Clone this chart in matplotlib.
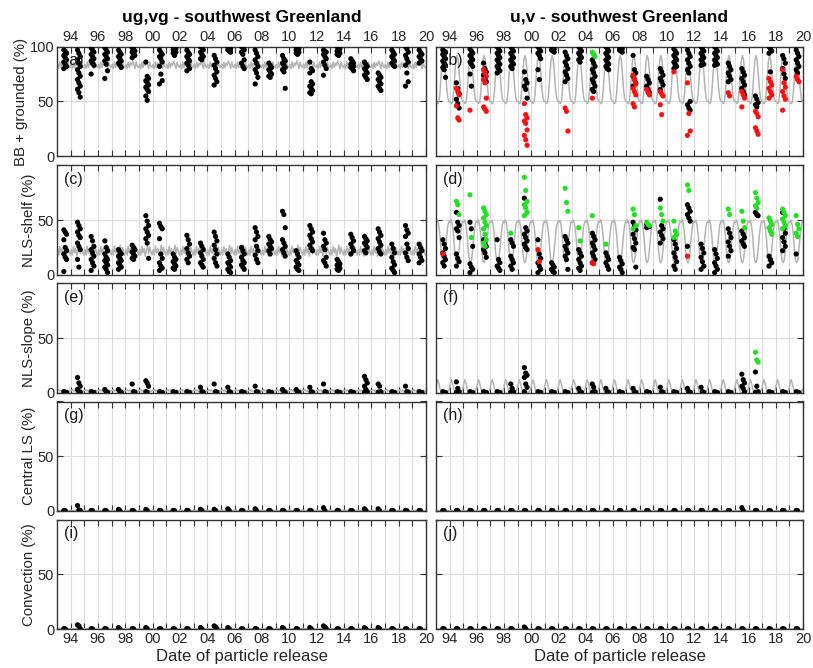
import numpy as np
import matplotlib
matplotlib.use("Agg")
import matplotlib.pyplot as plt

plt.rcParams['font.family'] = ['Liberation Sans', 'DejaVu Sans']

# ---------------- data ----------------
years = list(range(1993, 2020))          # release seasons
release_frac = 0.6                        # release time within the year

# monthly climatology of the grey curves (Jan..Dec)
a_clim = [84, 80, 86, 81, 85, 83, 87, 84, 80, 86, 82, 81]
b_clim = [50, 48, 49, 58, 74, 87, 92, 88, 76, 62, 53, 50]
c_clim = [23, 18, 26, 20, 24, 17, 22, 27, 19, 25, 21, 18]
d_clim = [48, 50, 45, 36, 22, 13, 11, 14, 24, 36, 45, 49]
e_clim = [2, 3, 1.5, 2.5, 1, 2, 3, 1.5, 2, 2.5, 1, 2]
f_clim = [8, 12, 9, 4, 1, 0.5, 0.5, 0.5, 0.5, 0.5, 1, 3]
g_clim = [0.4, 0.5, 0.3, 0.4, 0.3, 0.2, 0.2, 0.3, 0.4, 0.3, 0.4, 0.5]
h_clim = [0.3, 0.4, 0.3, 0.2, 0.2, 0.1, 0.1, 0.1, 0.2, 0.2, 0.3, 0.3]
i_clim = [0.4, 0.5, 0.3, 0.4, 0.3, 0.2, 0.2, 0.3, 0.4, 0.3, 0.4, 0.5]
j_clim = [0.2, 0.3, 0.2, 0.2, 0.1, 0.1, 0.1, 0.1, 0.1, 0.2, 0.2, 0.2]

a_black = [
    [97, 96, 94, 92, 90, 88, 86, 84, 82, 80],
    [97, 94, 91, 88, 85, 82, 79, 76, 73, 70, 67, 64, 61, 58, 54],
    [99, 97, 95, 93, 91, 89, 87, 85, 83, 75],
    [99, 97, 95, 93, 91, 89, 87, 84, 78, 71],
    [97, 95, 93, 91, 89, 87, 85, 83, 81],
    [99, 98, 96, 95, 93, 92, 90],
    [86, 73, 71, 69, 67, 65, 63, 61, 59, 55, 51],
    [97, 95, 93, 91, 89, 86, 82, 75, 69, 66],
    [100, 99, 98, 97, 96, 95, 94, 92],
    [97, 95, 93, 91, 89, 87, 85, 83, 80, 78],
    [100, 99, 97, 95, 93, 91, 89, 88],
    [92, 89, 86, 83, 80, 77, 74, 71, 68, 65],
    [100, 99, 98, 97, 96, 95],
    [100, 99, 97, 95, 93, 88, 85, 82, 80],
    [97, 94, 91, 88, 85, 82, 79, 76, 72, 66],
    [85, 83, 81, 79, 77, 75, 73, 72],
    [92, 89, 87, 85, 83, 81, 79, 77, 62],
    [100, 99, 98, 97, 96, 95, 94, 93],
    [86, 80, 78, 76, 68, 66, 64, 62, 60, 58, 57],
    [97, 96, 95, 93, 91, 89, 86, 83, 80, 74],
    [100, 99, 98, 96, 95, 94, 93, 92],
    [89, 87, 85, 84, 83, 82, 81, 80, 78],
    [86, 84, 82, 80, 78, 76, 74, 72, 70],
    [76, 74, 72, 70, 68, 66, 64, 62, 60],
    [97, 95, 93, 91, 89, 87, 85, 83, 82],
    [100, 98, 95, 92, 89, 86, 83, 76, 68, 64],
    [97, 95, 93, 91, 89, 87, 85],
]

b_black = [
    [97, 96, 95, 93, 91, 89, 87, 85, 83, 81, 79, 72],
    [67, 62, 57, 52, 48, 44],
    [98, 96, 94, 92, 90, 88, 86, 84, 82, 75, 64],
    [85, 80, 77, 74, 71, 68],
    [100, 98, 96, 94, 92, 90, 88, 86, 84, 82, 80, 78, 76],
    [100, 98, 96, 94, 92, 90, 88, 86, 84, 82, 80],
    [77, 70, 67, 64, 61, 53],
    [100, 98, 96, 94, 92, 89, 79, 70],
    [100, 99, 98, 97, 96, 95],
    [95, 92, 89, 86, 83, 80, 77, 74, 71, 68],
    [100, 98, 96, 94, 92, 90, 88, 86],
    [88, 85, 82, 79, 76, 73, 70, 67, 64, 61, 59],
    [100, 98, 96, 94, 92, 90, 88, 86, 84, 82, 80, 79],
    [100, 99, 98, 97, 96, 95],
    [92, 79, 76, 73, 70, 67, 64],
    [73, 70, 67, 64, 61, 58],
    [80, 77, 74, 71, 68, 65, 61],
    [98, 96, 94, 92, 90, 88, 86, 84, 82, 80],
    [97, 94, 91, 88, 85, 82, 79, 76, 50, 47, 44, 42],
    [100, 98, 96, 94, 92, 90, 88, 86, 84, 83],
    [100, 98, 96, 94, 92, 90, 88, 86, 84, 83],
    [85, 82, 79, 76, 73, 70, 68],
    [80, 77, 74, 71, 68, 65, 62, 59, 56],
    [55, 52, 49, 47, 45],
    [100, 98, 96, 94, 77],
    [92, 89, 85, 80, 75, 71],
    [97, 94, 91, 88, 85, 82, 79, 76],
]
b_red = [
    [], [62, 59, 56, 46, 35, 33], [42], [79, 76, 73, 70, 67, 53, 45, 43, 41], [], [],
    [48, 38, 35, 32, 30, 24, 19, 15, 10], [], [], [44, 41, 23], [], [53], [], [],
    [74, 70, 66, 62, 59, 56, 48, 45], [61, 58, 56], [59, 57, 55, 47, 38], [77],
    [67, 39, 23, 19], [], [], [58, 55], [59, 56, 53, 45], [41, 39, 36, 26, 23, 20],
    [71, 68, 65, 62, 59, 56, 53], [79, 67, 63, 59, 55, 52, 42], [73, 70, 68],
]
b_green = [[], [], [], [], [], [], [], [], [], [], [], [95, 93, 91], [], [], [], [], [],
           [], [], [], [], [], [], [], [], [], []]

c_black = [
    [41, 39, 37, 32, 25, 22, 19, 16, 14, 3],
    [48, 45, 42, 39, 36, 34, 29, 26, 23, 14, 7],
    [35, 31, 26, 23, 20, 17, 14, 11, 8, 4],
    [31, 25, 22, 19, 16, 14, 13, 11, 9, 7, 5, 2],
    [23, 21, 19, 17, 15, 13, 11, 9, 7, 5],
    [27, 25, 23, 21, 19, 17, 15, 14],
    [54, 49, 45, 42, 39, 36, 33, 29, 15],
    [47, 44, 42, 33, 19, 15, 11, 8, 6, 4],
    [19, 16, 14, 12, 10, 8, 6, 5],
    [36, 32, 28, 24, 20, 17, 14, 11],
    [29, 26, 23, 20, 17, 14, 11, 9, 7],
    [39, 35, 31, 27, 23, 19, 15, 11, 8],
    [19, 16, 13, 11, 9, 7, 5, 3, 2],
    [25, 22, 19, 16, 13, 11, 9, 7, 5],
    [43, 39, 35, 32, 26, 22, 18, 14, 11],
    [35, 32, 30, 28, 26, 24, 22, 19],
    [58, 55, 43, 32, 29, 26, 23, 20, 17],
    [22, 19, 16, 13, 11, 9, 7, 5, 4],
    [45, 42, 39, 36, 33, 30, 27, 24, 22],
    [38, 32, 29, 26, 23, 16, 13, 11, 8],
    [14, 12, 10, 9, 8, 6, 5, 4],
    [37, 34, 31, 28, 25, 22, 19],
    [35, 33, 31, 29, 27, 25, 22, 20],
    [42, 39, 36, 33, 30, 27, 24, 21, 19],
    [28, 24, 20, 16, 12, 9, 6, 4, 2],
    [45, 41, 38, 35, 28, 24, 20, 16, 13],
    [28, 25, 22, 19, 16, 13, 11],
]

d_black = [
    [32, 28, 24, 20, 17, 14, 11, 8],
    [57, 48, 45, 42, 40, 34, 19, 15, 12, 8],
    [48, 42, 26, 10, 7, 5, 2],
    [32, 29, 26, 23, 20, 16],
    [32, 14, 11, 8, 6, 4],
    [32, 29, 26, 17, 14, 11, 8, 5],
    [70, 43, 40, 37, 34, 31, 28, 25, 23],
    [32, 19, 15, 11, 8, 5, 2],
    [11, 9, 7, 5, 3, 2],
    [35, 32, 29, 26, 23, 20, 17, 14, 5],
    [23, 20, 17, 14, 11, 8, 6, 4],
    [38, 35, 32, 29, 26, 23, 20, 17, 14, 11],
    [20, 17, 14, 11, 8, 5],
    [16, 13, 10, 7, 5, 2],
    [48, 45, 41, 37, 33, 29, 25, 23, 7],
    [46, 45, 44, 43],
    [69, 45, 42, 39, 36, 33, 29],
    [32, 28, 24, 20, 16, 12, 8, 5],
    [64, 61, 58, 55, 52, 49, 26],
    [28, 24, 20, 16, 12, 8, 5],
    [23, 19, 15, 11, 8, 5, 2],
    [42, 38, 34, 30, 26, 22, 17],
    [40, 37, 34, 31, 28, 26],
    [57, 55, 54],
    [17, 14, 11, 8],
    [57, 42, 38, 34, 30, 26, 22],
    [19],
]
d_red = [[19], [], [], [], [], [], [], [23, 12], [], [], [], [11, 10], [], [], [], [], [],
         [], [17], [], [], [], [], [], [], [], []]
d_green = [
    [], [67, 64, 55], [73, 34], [61, 58, 55, 52, 48, 45, 42, 37, 32, 29, 26], [], [38],
    [89, 77, 67, 64, 61, 57, 54], [], [], [79, 66, 58], [43, 31], [54], [28], [],
    [60, 55, 45, 42], [48, 46, 45], [61, 55, 49], [49, 40, 37, 34], [82, 77], [], [],
    [60, 55], [58, 49, 43], [75, 70, 66, 63, 61], [52, 49, 46, 43, 40, 37],
    [60, 57, 54, 51, 48, 45, 42], [54, 46, 42, 38, 35],
]

e_black = [
    [1, 0.5, 0.3], [14, 9, 6, 3, 1, 0.5], [1, 0.5, 0.3], [3, 1, 0.5], [3, 1, 0.5],
    [8, 1, 0.5], [11, 9, 6, 1, 0.5], [1, 0.5, 0.3], [1, 0.5, 0.3], [1, 0.5, 0.3],
    [5, 1, 0.5], [8, 1, 0.5], [5, 1, 0.5], [1, 0.5, 0.3], [6, 1, 0.5], [1, 0.5, 0.3],
    [3, 1, 0.5], [3, 1, 0.5], [5, 1, 0.5], [8, 1, 0.5], [1, 0.5, 0.3], [1, 0.5, 0.3],
    [15, 12, 9, 6, 3, 1, 0.5], [8, 6, 1, 0.5], [1, 0.5, 0.3], [6, 1, 0.5], [1, 0.5, 0.3],
]
f_black = [
    [1, 0.5, 0.3], [10, 4, 1, 0.5], [1, 0.5, 0.3], [1, 0.5, 0.3], [1, 0.5, 0.3],
    [8, 4, 1, 0.5], [23, 18, 16, 14, 8, 5, 1], [1, 0.5, 0.3], [1, 0.5, 0.3], [1, 0.5, 0.3],
    [4, 1, 0.5], [8, 5, 1, 0.5], [4, 1, 0.5], [1, 0.5, 0.3], [4, 1, 0.5], [1, 0.5, 0.3],
    [5, 1, 0.5], [1, 0.5, 0.3], [4, 1, 0.5], [5, 1, 0.5], [1, 0.5, 0.3], [1, 0.5, 0.3],
    [17, 12, 9, 6, 4, 1], [19, 6, 1, 0.5], [1, 0.5, 0.3], [1, 0.5, 0.3], [1, 0.5, 0.3],
]
f_green = [[], [], [], [], [], [], [], [], [], [], [], [], [], [], [], [], [], [], [], [],
           [], [], [], [37, 30, 28], [], [], []]

g_black = [
    [0.5, 0.3], [5, 1, 0.5], [0.5, 0.3], [0.5, 0.3], [1.5, 0.5], [0.5, 0.3], [1.5, 0.5],
    [0.5, 0.3], [0.5, 0.3], [0.5, 0.3], [1.5, 0.5], [1.5, 0.5], [2, 0.5], [0.5, 0.3],
    [2, 0.5], [0.5, 0.3], [0.5, 0.3], [0.5, 0.3], [0.5, 0.3], [3, 0.5], [0.5, 0.3],
    [0.5, 0.3], [2, 0.5], [2, 0.5], [0.5, 0.3], [0.5, 0.3], [0.5, 0.3],
]
h_black = [
    [0.5, 0.3], [0.5, 0.3], [0.5, 0.3], [0.5, 0.3], [0.5, 0.3], [0.5, 0.3], [0.5, 0.3],
    [0.5, 0.3], [0.5, 0.3], [0.5, 0.3], [0.5, 0.3], [0.5, 0.3], [0.5, 0.3], [0.5, 0.3],
    [0.5, 0.3], [0.5, 0.3], [0.5, 0.3], [0.5, 0.3], [0.5, 0.3], [0.5, 0.3], [0.5, 0.3],
    [0.5, 0.3], [3, 0.5], [0.5, 0.3], [0.5, 0.3], [0.5, 0.3], [0.5, 0.3],
]
i_black = [
    [0.5, 0.3], [4, 3, 0.5], [0.5, 0.3], [0.5, 0.3], [1.5, 0.5], [0.5, 0.3], [1.5, 0.5],
    [0.5, 0.3], [0.5, 0.3], [0.5, 0.3], [1.5, 0.5], [3, 2, 0.5], [1.5, 0.5], [0.5, 0.3],
    [0.5, 0.3], [0.5, 0.3], [1.5, 0.5], [0.5, 0.3], [1.5, 0.5], [3, 2, 0.5], [0.5, 0.3],
    [0.5, 0.3], [1.5, 0.5], [1.5, 0.5], [0.5, 0.3], [0.5, 0.3], [0.5, 0.3],
]
j_black = [
    [0.5, 0.3], [0.5, 0.3], [0.5, 0.3], [0.5, 0.3], [0.5, 0.3], [0.5, 0.3], [2, 0.5],
    [0.5, 0.3], [0.5, 0.3], [0.5, 0.3], [0.5, 0.3], [0.5, 0.3], [0.5, 0.3], [0.5, 0.3],
    [0.5, 0.3], [0.5, 0.3], [0.5, 0.3], [0.5, 0.3], [0.5, 0.3], [0.5, 0.3], [0.5, 0.3],
    [0.5, 0.3], [0.5, 0.3], [0.5, 0.3], [0.5, 0.3], [0.5, 0.3], [0.5, 0.3],
]

row_labels = ['BB + grounded (%)', 'NLS-shelf (%)', 'NLS-slope (%)', 'Central LS (%)', 'Convection (%)']
col_titles = ['ug,vg - southwest Greenland', 'u,v - southwest Greenland']
panel_letters = [['(a)', '(b)'], ['(c)', '(d)'], ['(e)', '(f)'], ['(g)', '(h)'], ['(i)', '(j)']]

panels = [
    [(a_clim, a_black, [], []), (b_clim, b_black, b_red, b_green)],
    [(c_clim, c_black, [], []), (d_clim, d_black, d_red, d_green)],
    [(e_clim, e_black, [], []), (f_clim, f_black, [], f_green)],
    [(g_clim, g_black, [], []), (h_clim, h_black, [], [])],
    [(i_clim, i_black, [], []), (j_clim, j_black, [], [])],
]

# ---------------- figure ----------------
W, H = 813, 668
fig = plt.figure(figsize=(W / 100, H / 100), dpi=100)

col_left = [57, 436]
col_w = [369, 367]
row_top = [46.7, 165.3, 283.3, 401.5, 519.7]
row_h = 109.5

grey = '#b4b4b4'
spine_c = '#333333'
text_c = '#262626'
offsets = [-0.1, 0.0, 0.1]


def cluster_xy(groups):
    xs, ys = [], []
    for yr, vals in zip(years, groups):
        for k, v in enumerate(vals):
            xs.append(yr + release_frac + offsets[k % 3])
            ys.append(v)
    return xs, ys


clim_t = [yr + (m + 0.5) / 12 for yr in range(1993, 2020) for m in range(12)]
dot_s = 14

for r in range(5):
    for c in range(2):
        l = col_left[c] / W
        b = 1 - (row_top[r] + row_h) / H
        ax = fig.add_axes([l, b, col_w[c] / W, row_h / H])
        clim, blk, red, grn = panels[r][c]
        clim_v = list(clim) * 27
        ax.plot(clim_t, clim_v, color=grey, lw=1.1, zorder=2)
        xs, ys = cluster_xy(blk)
        ax.scatter(xs, ys, s=dot_s, color='black', edgecolors='none', zorder=3)
        if red:
            xs, ys = cluster_xy(red)
            ax.scatter(xs, ys, s=dot_s, color='#ff1010', edgecolors='none', zorder=4)
        if grn:
            xs, ys = cluster_xy(grn)
            ax.scatter(xs, ys, s=dot_s, color='#22e022', edgecolors='none', zorder=5)

        ax.set_xlim(1993, 2020)
        ax.set_ylim(0, 100)
        ax.set_xticks(range(1994, 2021))
        ax.set_xticklabels([('%02d' % (y % 100)) if y % 2 == 0 else '' for y in range(1994, 2021)])
        ax.set_yticks([0, 50, 100])
        ax.set_yticklabels(['0', '50', '100' if r == 0 else ''])
        ax.grid(True, axis='x', color='#dcdcdc', lw=0.8, zorder=0)
        ax.axhline(50, color='#dcdcdc', lw=0.8, zorder=0)
        ax.tick_params(direction='in', top=True, right=True, length=4, width=0.8,
                       color=spine_c, labelsize=10.5, labelcolor=text_c, pad=2,
                       labeltop=(r == 0), labelbottom=(r == 4), labelleft=(c == 0))
        for s in ax.spines.values():
            s.set_color(spine_c)
            s.set_linewidth(1.0)
        ax.text(0.02, 0.94, panel_letters[r][c], transform=ax.transAxes, fontsize=11.5,
                va='top', ha='left', color='#1a1a1a', zorder=6)
        if c == 0:
            ax.set_ylabel(row_labels[r], fontsize=10.8, color=text_c, labelpad=1)
        if r == 0:
            ax.set_title(col_titles[c], fontsize=12.5, fontweight='bold', pad=18)
        if r == 4:
            ax.set_xlabel('Date of particle release', fontsize=12, color=text_c, labelpad=2)

fig.savefig('out.png', dpi=100)
